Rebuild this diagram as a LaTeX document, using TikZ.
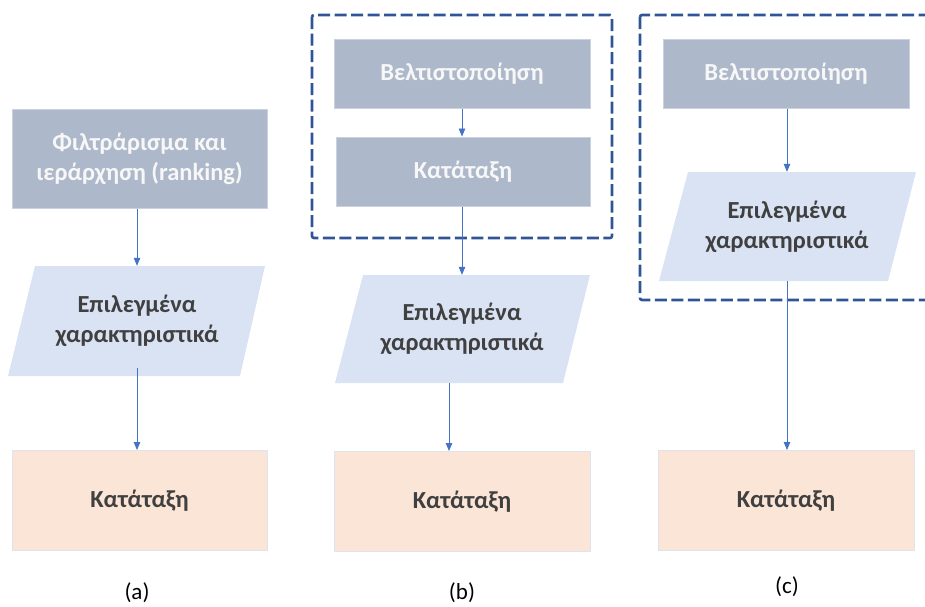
\documentclass[tikz,border=0pt]{standalone}
\usepackage{fontspec}
\setmainfont{Carlito}
\usetikzlibrary{arrows.meta}
\definecolor{stepgrey}{HTML}{ADB9CA}
\definecolor{stepgreyedge}{HTML}{C9D2DE}
\definecolor{datablue}{HTML}{DAE3F3}
\definecolor{resultpeach}{HTML}{FBE5D6}
\definecolor{resultedge}{HTML}{DEE4EE}
\definecolor{linkblue}{HTML}{4472C4}
\definecolor{groupblue}{HTML}{2F5597}
\definecolor{darktext}{HTML}{404040}
\tikzset{
  boxfont/.style={font=\fontsize{24.5}{30}\selectfont\bfseries},
  greybox/.style={rectangle, fill=stepgrey, draw=stepgreyedge, line width=1pt,
    inner sep=0pt, align=center, text=white!97!black, boxfont},
  peachbox/.style={rectangle, fill=resultpeach, draw=resultedge, line width=1pt,
    inner sep=0pt, minimum width=255pt, minimum height=100pt,
    text=darktext, boxfont},
  dataslot/.style={rectangle, inner sep=0pt, align=center, text=darktext, boxfont},
  datafill/.style={fill=datablue},
  link/.style={draw=linkblue, line width=0.8pt,
    -{Triangle[length=8pt,width=6.5pt]}},
  groupframe/.style={draw=groupblue, line width=2.6pt, dash pattern=on 12pt off 4.5pt,
    rounded corners=2pt},
  caption/.style={font=\fontsize{23}{27}\selectfont, text=black}
}
\begin{document}
\begin{tikzpicture}[x=1pt,y=-1pt]
\useasboundingbox (0,0) rectangle (925,606);
\clip (0,0) rectangle (925,606);

% ---- (a) filter and rank, then classify
\node[greybox, minimum width=255pt, minimum height=99pt] (fa) at (139.5,158.5)
  {Φιλτράρισμα και\\ιεράρχηση (ranking)};
\fill[datafill] (35,266) -- (265,266) -- (240,376) -- (8,376) -- cycle;
\node[dataslot, minimum width=230pt, minimum height=110pt] (sa) at (137,321)
  {Επιλεγμένα\\χαρακτηριστικά};
\node[peachbox] (ka) at (139.5,500.5) {Κατάταξη};
\coordinate (sa-out) at ([yshift=8pt]sa.south);
\draw[link] (fa.south -| sa.north) -- (sa.north);
\draw[link] (sa-out) -- (ka.north -| sa-out);
\node[caption] (capa) at (137,593) {(a)};

% ---- (b) wrapper: optimisation with the classifier in the loop
\draw[groupframe] (312,15) rectangle (612,238);
\node[greybox, minimum width=256pt, minimum height=69pt] (ob) at (462,73.5)
  {Βελτιστοποίηση};
\node[greybox, minimum width=254pt, minimum height=69pt] (cb) at (463,171.5)
  {Κατάταξη};
\fill[datafill] (363,275) -- (590,275) -- (563,383) -- (335,383) -- cycle;
\node[dataslot, minimum width=228pt, minimum height=108pt] (sb) at (462,329)
  {Επιλεγμένα\\χαρακτηριστικά};
\node[peachbox, minimum width=256pt] (kb) at (462,501.5) {Κατάταξη};
\draw[link] (ob.south -| 462,0) -- (cb.north -| 462,0);
\draw[link] (cb.south -| 462,0) -- (sb.north);
\draw[link] (sb.south -| 449,0) -- (kb.north -| 449,0);
\node[caption] (capb) at (462,593) {(b)};

% ---- (c) embedded: optimisation yields the selected features
\draw[groupframe] (640,15) rectangle (940,300);
\node[greybox, minimum width=246pt, minimum height=69pt] (oc) at (786,73.5)
  {Βελτιστοποίηση};
\fill[datafill] (688,172) -- (916,172) -- (888,281) -- (659,281) -- cycle;
\node[dataslot, minimum width=228pt, minimum height=109pt] (sc) at (787,226.5)
  {Επιλεγμένα\\χαρακτηριστικά};
\node[peachbox, minimum width=256pt] (kc) at (786,500.5) {Κατάταξη};
\draw[link] (oc.south -| sc.north) -- (sc.north);
\draw[link] (sc.south) -- (kc.north -| sc.south);
\node[caption] (capc) at (787,587) {(c)};
\end{tikzpicture}
\end{document}
